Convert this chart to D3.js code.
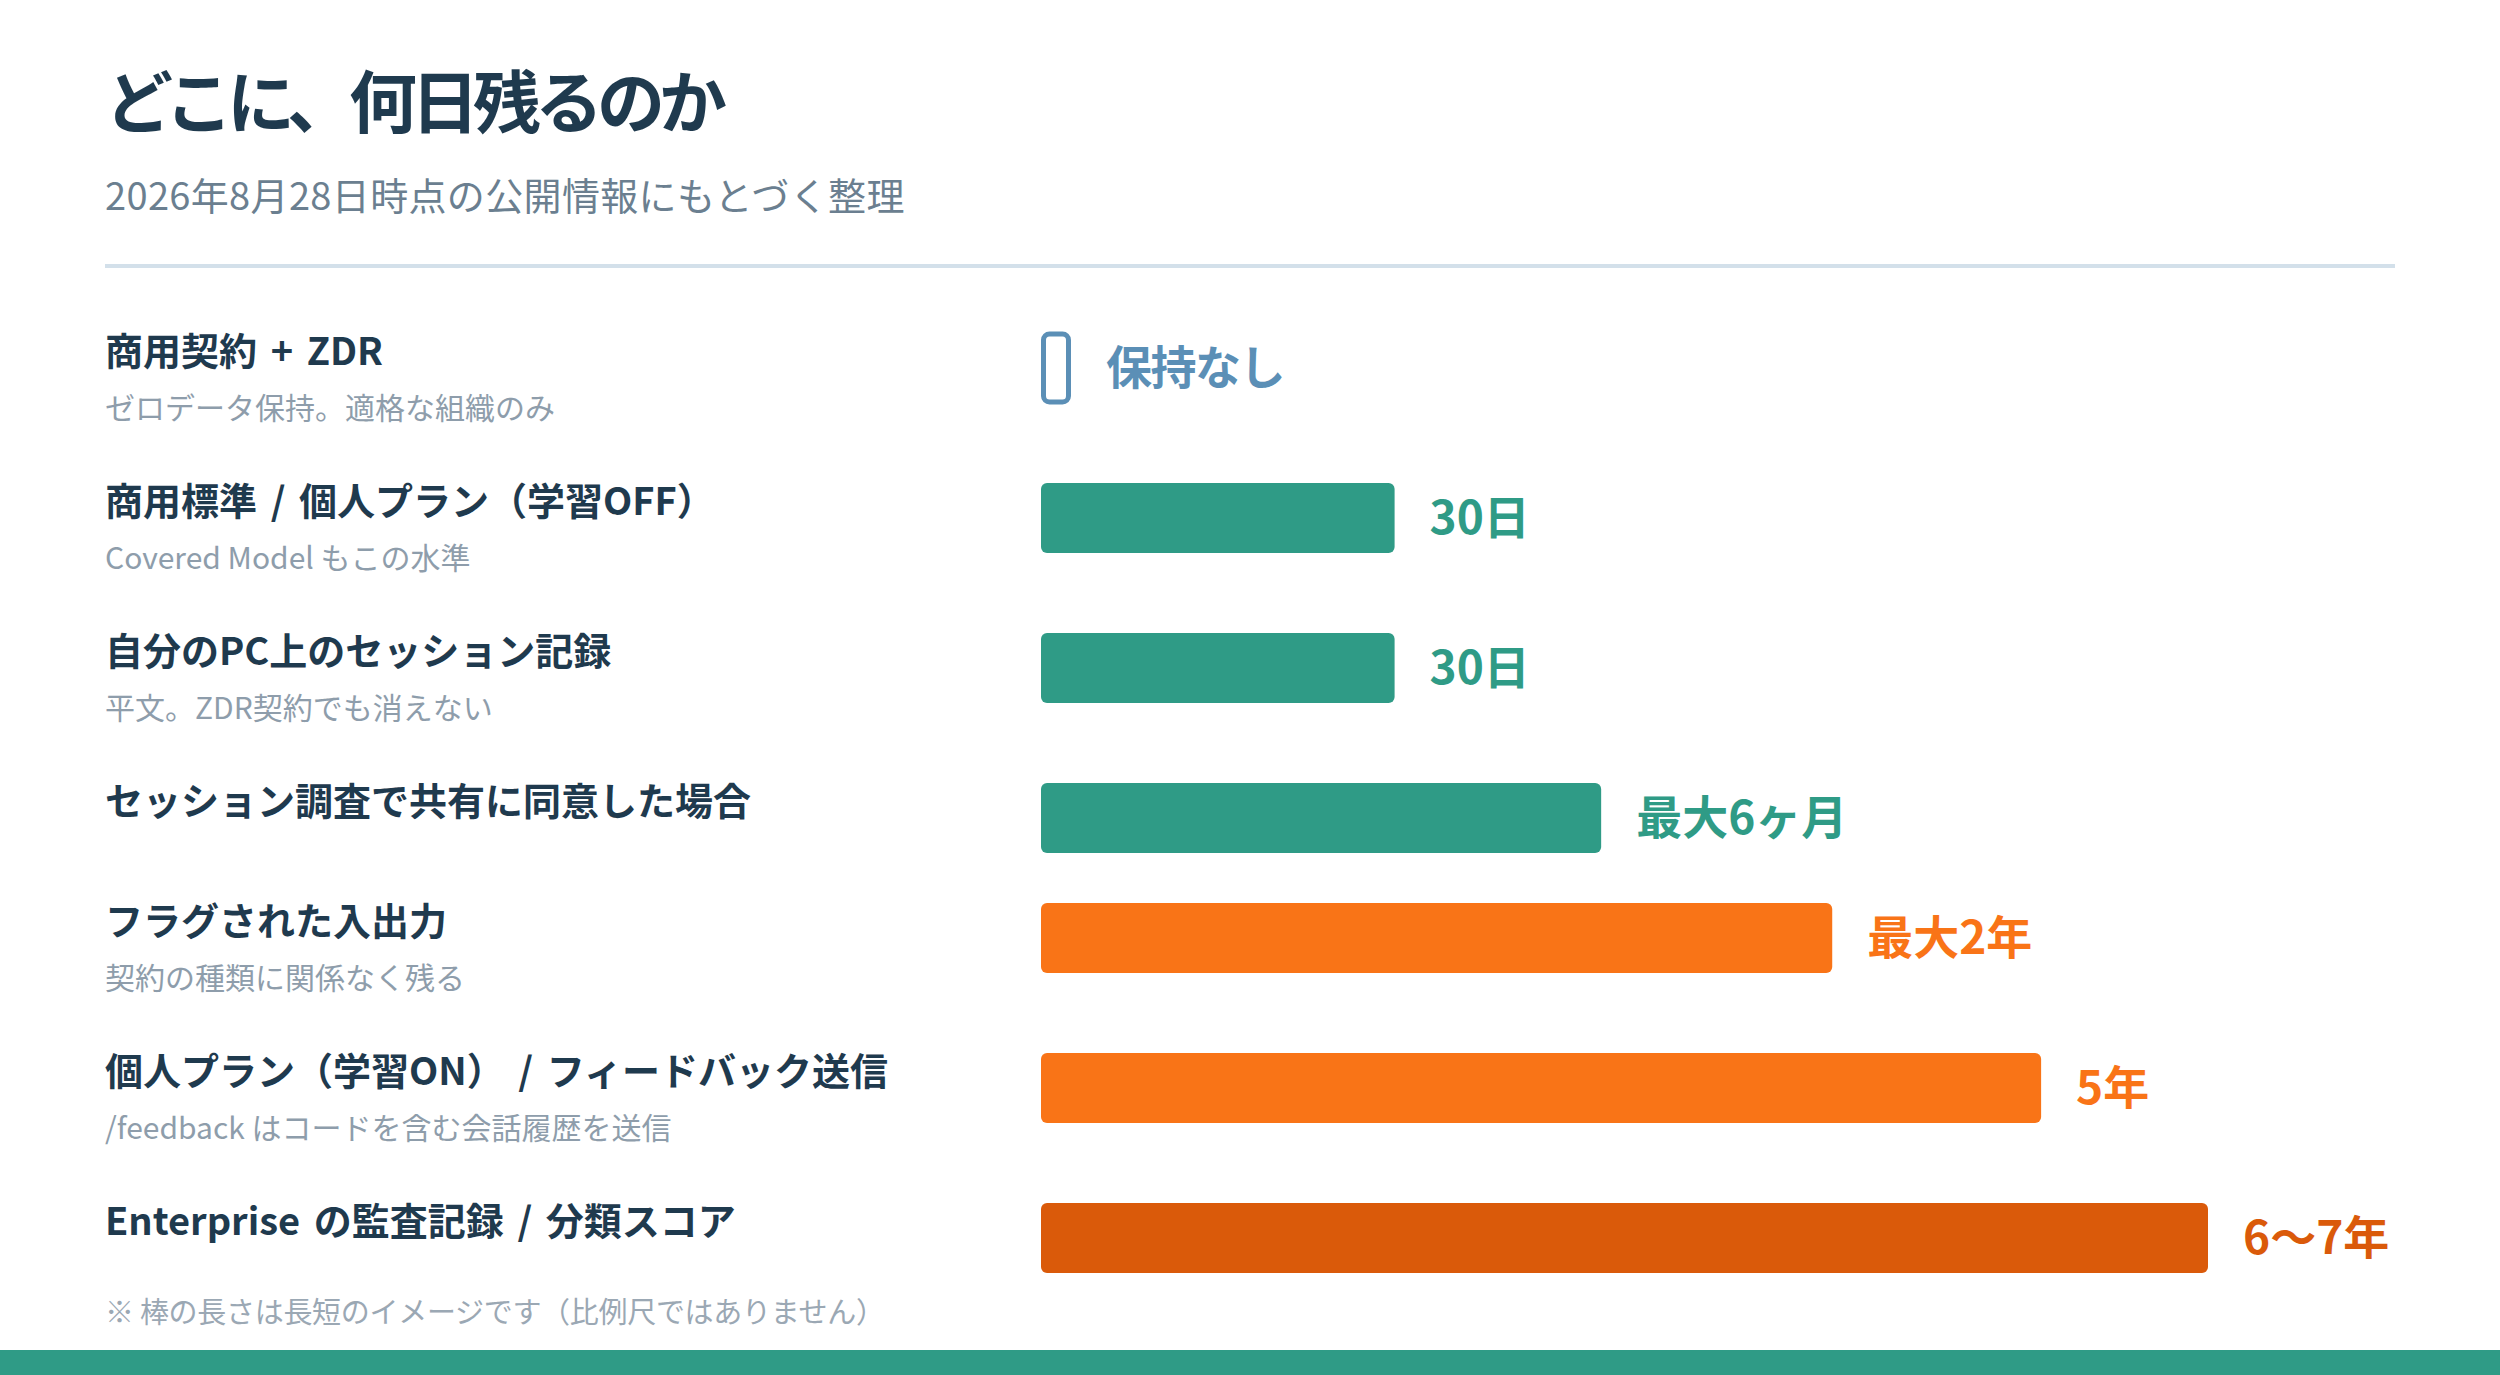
<!DOCTYPE html>
<html lang="ja">
<head>
<meta charset="utf-8">
<script src="https://cdn.jsdelivr.net/npm/d3@7"></script>
<style>
  html, body { margin: 0; padding: 0; background: #ffffff; }
  svg { display: block; font-family: "Noto Sans CJK JP", "Noto Sans", sans-serif; }
</style>
</head>
<body>
<svg id="chart" width="2500" height="1375"></svg>
<script>
// ---- data ----
const titleText = "どこに、何日残るのか";
const subtitleText = "2026年8月28日時点の公開情報にもとづく整理";
const footnoteText = "※ 棒の長さは長短のイメージです（比例尺ではありません）";

const categories = [
  "商用契約 + ZDR",
  "商用標準 / 個人プラン（学習OFF）",
  "自分のPC上のセッション記録",
  "セッション調査で共有に同意した場合",
  "フラグされた入出力",
  "個人プラン（学習ON） / フィードバック送信",
  "Enterprise の監査記録 / 分類スコア"
];
const subLabels = [
  "ゼロデータ保持。適格な組織のみ",
  "Covered Model もこの水準",
  "平文。ZDR契約でも消えない",
  "",
  "契約の種類に関係なく残る",
  "/feedback はコードを含む会話履歴を送信",
  ""
];
// relative (non-proportional) bar length, 0-100
const barValues = [0, 30.3, 30.3, 48, 67.8, 85.7, 100];
const valueLabels = ["保持なし", "30日", "30日", "最大6ヶ月", "最大2年", "5年", "6〜7年"];
const tiers = ["none", "short", "short", "short", "long", "long", "longest"];

// ---- styles ----
const W = 2500, H = 1375;
const tierColor = d3.scaleOrdinal()
  .domain(["none", "short", "long", "longest"])
  .range(["#5b8fb6", "#2f9b86", "#f97417", "#da5a0a"]);

const svg = d3.select("#chart");

// title
svg.append("text")
  .attr("x", 105).attr("y", 128)
  .attr("font-size", 68).attr("font-weight", 700)
  .attr("fill", "#1f3a4e")
  .attr("letter-spacing", -6)
  .text(titleText);

svg.append("text")
  .attr("x", 105).attr("y", 210)
  .attr("font-size", 38).attr("font-weight", 400)
  .attr("fill", "#6b7f90")
  .attr("letter-spacing", 0.35)
  .text(subtitleText);

svg.append("line")
  .attr("x1", 105).attr("x2", 2395)
  .attr("y1", 266).attr("y2", 266)
  .attr("stroke", "#d3e0ea").attr("stroke-width", 4);

// row layout: rows with a sub-label take more space
const rowCenters = [];
let yc = 368;
categories.forEach((c, i) => {
  rowCenters.push(yc);
  yc += subLabels[i] ? 150 : 120;
});

const x = d3.scaleLinear().domain([0, 100]).range([1041, 2208]);
const barH = 70;

const rows = svg.append("g").selectAll("g.row")
  .data(categories.map((c, i) => ({
    cat: c, sub: subLabels[i], v: barValues[i], lab: valueLabels[i], tier: tiers[i], cy: rowCenters[i]
  })))
  .join("g").attr("class", "row");

rows.append("text")
  .attr("x", 105).attr("y", d => d.cy - 3)
  .attr("font-size", 38).attr("font-weight", 700)
  .attr("word-spacing", 5)
  .attr("fill", "#1f3a4e")
  .text(d => d.cat);

rows.filter(d => d.sub).append("text")
  .attr("x", 105).attr("y", d => d.cy + 51)
  .attr("font-size", 30).attr("font-weight", 400)
  .attr("fill", "#8e9dab")
  .text(d => d.sub);

// bars
rows.filter(d => d.v > 0).append("rect")
  .attr("x", x(0))
  .attr("y", d => d.cy - barH / 2)
  .attr("width", d => x(d.v) - x(0))
  .attr("height", barH)
  .attr("rx", 6)
  .attr("fill", d => tierColor(d.tier));

// zero retention: hollow marker
rows.filter(d => d.v === 0).append("rect")
  .attr("x", x(0) + 2.5)
  .attr("y", d => d.cy - 34)
  .attr("width", 25)
  .attr("height", 68)
  .attr("rx", 6)
  .attr("fill", "none")
  .attr("stroke", d => tierColor(d.tier))
  .attr("stroke-width", 5);

rows.append("text")
  .attr("x", d => (d.v > 0 ? x(d.v) : x(0) + 30) + 35)
  .attr("y", d => d.cy + 16)
  .attr("font-size", 46).attr("font-weight", 700)
  .attr("letter-spacing", d => d.v > 0 ? 0 : -1.5)
  .attr("fill", d => tierColor(d.tier))
  .text(d => d.lab);

// footnote
svg.append("text")
  .attr("x", 105).attr("y", 1323)
  .attr("font-size", 29).attr("font-weight", 400)
  .attr("letter-spacing", -0.3)
  .attr("fill", "#9ba8b4")
  .text(footnoteText);

// bottom band
svg.append("rect")
  .attr("x", 0).attr("y", 1350).attr("width", W).attr("height", 25)
  .attr("fill", "#2f9b86");
</script>
</body>
</html>
